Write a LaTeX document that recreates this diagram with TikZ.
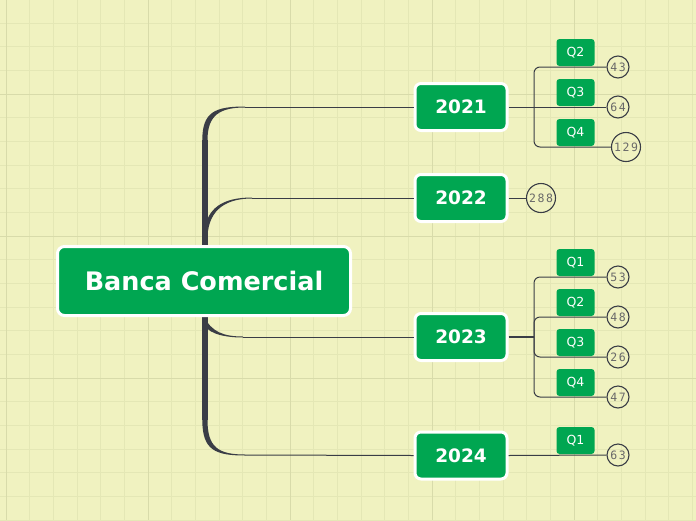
\documentclass[tikz,border=0pt]{standalone}
\usepackage{fontspec}
\setmainfont{DejaVu Sans}
\newfontfamily\monofam[LetterSpace=14]{DejaVu Sans Mono}
\newcommand\rootfnt{\fontsize{25.5}{30}\selectfont\bfseries}
\newcommand\yearfnt{\fontsize{18.5}{22}\selectfont\bfseries}
\newcommand\qfnt{\fontsize{12.5}{14}\selectfont}
\newcommand\numfnt{\monofam\fontsize{11.5}{13}\selectfont}
\definecolor{bg}{RGB}{240,242,192}
\definecolor{gridminor}{RGB}{228,231,181}
\definecolor{gridmajor}{RGB}{216,219,170}
\definecolor{mmgreen}{RGB}{0,166,81}
\definecolor{linecol}{RGB}{58,61,70}
\definecolor{numgray}{RGB}{105,105,105}
\tikzset{
  rootbox/.style={draw=white, line width=3pt, fill=mmgreen, rounded corners=7pt,
    minimum width=293pt, minimum height=69pt, text=white, font=\rootfnt, inner sep=0pt},
  yearbox/.style={draw=white, line width=3pt, fill=mmgreen, rounded corners=6pt,
    minimum width=92pt, minimum height=47pt, text=white, font=\yearfnt, inner sep=0pt},
  qbox/.style={fill=mmgreen, rounded corners=3pt, minimum width=38pt, minimum height=27pt,
    text=white, font=\qfnt, inner sep=0pt},
  valc/.style={circle, draw=linecol, line width=1.1pt, inner sep=0pt, minimum size=22pt,
    text=numgray, font=\numfnt},
  valbig/.style={valc, minimum size=29pt},
  conn/.style={draw=linecol, line width=1pt},
  trunkfill/.style={fill=linecol, draw=none},
}
\begin{document}
\begin{tikzpicture}[x=1pt,y=-1pt]
% background and grid
\fill[bg] (0,0) rectangle (696,520);
\useasboundingbox (0,0) rectangle (696,520);
\foreach \i in {0,...,29} {
  \draw[gridminor, line width=1pt] ({6+23.67*\i},0) -- ({6+23.67*\i},520);
}
\foreach \j in {0,...,22} {
  \draw[gridminor, line width=1pt] (0,{-0.67+23.67*\j}) -- (696,{-0.67+23.67*\j});
}
\foreach \i in {0,6,12,18,24} {
  \draw[gridmajor, line width=1pt] ({6+23.67*\i},0) -- ({6+23.67*\i},520);
}
\foreach \j in {4,10,16} {
  \draw[gridmajor, line width=1pt] (0,{-0.67+23.67*\j}) -- (696,{-0.67+23.67*\j});
}

% trunk coordinates
\coordinate (b21) at (245,107);
\coordinate (b22) at (252,198);
\coordinate (b23) at (243,337);
\coordinate (b24) at (245,455);

% main trunk
\fill[trunkfill] (202.3,140) rectangle (207.5,420);
% curve to 2021
\fill[trunkfill] (202.3,140) .. controls (202.3,112) and (215,106.5) .. (245,106.5)
  -- (245,107.5) .. controls (220,107.5) and (207.5,115) .. (207.5,140) -- cycle;
% curve to 2022
\fill[trunkfill] (204,236) .. controls (205,207) and (224,197.5) .. (252,197.5)
  -- (252,198.5) .. controls (228,198.5) and (209,208) .. (207.5,236) -- cycle;
% curve to 2023
\fill[trunkfill] (204,316) .. controls (211,332) and (224,336.5) .. (243,336.5)
  -- (243,337.5) .. controls (220,337.5) and (206,332) .. (202.5,322) -- cycle;
% curve to 2024
\fill[trunkfill] (202.3,420) .. controls (202.3,450) and (215,455.5) .. (245,455.5)
  -- (245,454.5) .. controls (218,454.5) and (207.5,447) .. (207.5,420) -- cycle;

% nodes
\node[rootbox] (root) at (204,281) {Banca Comercial};
\node[yearbox] (y21) at (461,107) {2021};
\node[yearbox] (y22) at (461,198) {2022};
\node[yearbox] (y23) at (461,337) {2023};
\node[yearbox] (y24) at (461,455.5) {2024};

% value circles
\node[valc] (v43) at (618,67) {43};
\node[valc] (v64) at (618,107) {64};
\node[valbig] (v129) at (626,147) {129};
\node[valbig] (v288) at (541,198) {288};
\node[valc] (v53) at (618,277) {53};
\node[valc] (v48) at (618,317) {48};
\node[valc] (v26) at (618,357) {26};
\node[valc] (v47) at (618,397) {47};
\node[valc] (v63) at (618,455) {63};

% branch lines from trunk to years
\draw[conn] (b21) -- (y21.west);
\draw[conn] (b22) -- (y22.west);
\draw[conn] (b23) -- (y23.west);
\draw[conn] (b24) -- (y24.west);

% 2021 children
\coordinate (j21) at (534,107);
\draw[conn] (y21.east) -- (j21);
\draw[conn, rounded corners=6pt] (j21) |- (v43.west);
\draw[conn] (j21) -- (v64.west);
\draw[conn, rounded corners=6pt] (j21) |- (v129.west);

% 2022 child
\draw[conn] (y22.east) -- (v288.west);

% 2023 children
\coordinate (j23) at (534,337);
\draw[conn, line width=1.6pt] (y23.east) -- (j23);
\draw[conn, rounded corners=6pt] (j23) |- (v53.west);
\draw[conn, rounded corners=6pt] (j23) |- (v48.west);
\draw[conn, rounded corners=6pt] (j23) |- (v26.west);
\draw[conn, rounded corners=6pt] (j23) |- (v47.west);

% 2024 child
\draw[conn] (y24.east) -- (v63.west);

% quarter labels
\node[qbox] (q21b) at (575.5,52.5) {Q2};
\node[qbox] (q21c) at (575.5,92.5) {Q3};
\node[qbox] (q21d) at (575.5,132.5) {Q4};
\node[qbox] (q23a) at (575.5,262.5) {Q1};
\node[qbox] (q23b) at (575.5,302.5) {Q2};
\node[qbox] (q23c) at (575.5,342.5) {Q3};
\node[qbox] (q23d) at (575.5,382.5) {Q4};
\node[qbox] (q24a) at (575.5,440.5) {Q1};
\end{tikzpicture}
\end{document}
